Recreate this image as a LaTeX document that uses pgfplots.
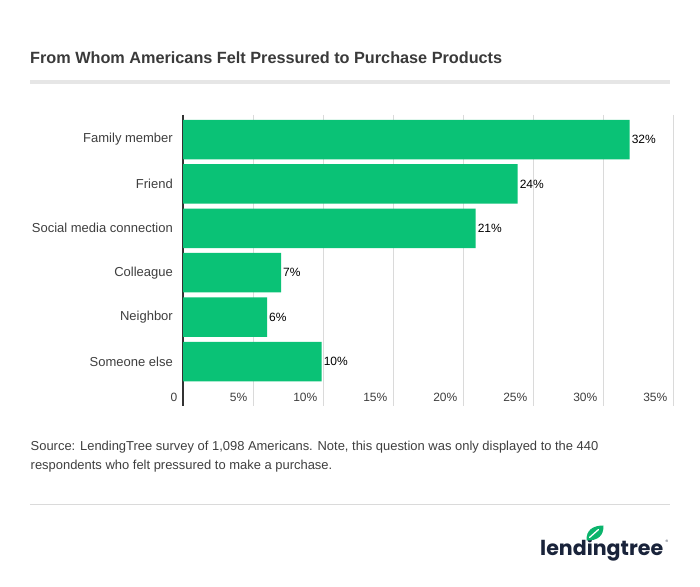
\documentclass[border=0pt]{standalone}
\usepackage{pgfplots}
\pgfplotsset{compat=1.18}
\usepackage{pgfplotstable}
\usepackage{fontspec}
\setmainfont{Liberation Sans}
\newfontfamily\logofont{Poppins}
\definecolor{bargreen}{HTML}{0AC276}
\definecolor{leafgreen}{HTML}{0BB46C}
\definecolor{txt}{HTML}{3F3F3F}
\definecolor{titletxt}{HTML}{3A3A3A}
\definecolor{gridc}{HTML}{DADADA}
\definecolor{rulec}{HTML}{E6E6E6}
\definecolor{navy}{HTML}{19233A}
\pgfplotstableread{
val pos lab
31.9 0 32
23.9 1 24
20.9 2 21
7.0 3 7
6.0 4 6
9.9 5 10
}\data
\begin{document}
\begin{tikzpicture}[x=1pt,y=1pt]
\path[fill=white,use as bounding box] (0pt,0pt) rectangle (700pt,586pt);
% title
\node[anchor=base west,inner sep=0pt,text=titletxt] at (30pt,522.7pt)
  {\resizebox{472pt}{!}{\fontsize{18}{20}\selectfont\bfseries From Whom Americans Felt Pressured to Purchase Products}};
\fill[rulec] (30pt,501.7pt) rectangle (670pt,506pt);
\begin{axis}[
  at={(183pt,180.5pt)}, anchor=south west,
  scale only axis, width=490pt, height=290.5pt,
  xmin=0, xmax=35, ymin=-0.552, ymax=5.991,
  y dir=reverse,
  xbar, bar width=39.5pt,
  axis lines=left,
  x axis line style={draw=none},
  y axis line style={-, draw=black!80, line width=2pt},
  major tick length=0pt,
  xtick={0,5,10,15,20,25,30,35},
  xticklabels={0,5\%,10\%,15\%,20\%,25\%,30\%,35\%},
  ytick={0,1,2,3,4,5},
  yticklabels={Family member,Friend,Social media connection,Colleague,Neighbor,Someone else},
  xmajorgrids, major grid style={draw=gridc, line width=0.9pt},
  xticklabel style={anchor=east, inner sep=0pt, xshift=-5.5pt, yshift=7.8pt, font=\fontsize{12}{14}\selectfont, text=txt},
  yticklabel style={anchor=east, inner sep=0pt, xshift=-10pt, font=\fontsize{13}{15}\selectfont, text=txt},
  clip=false,
  nodes near coords={\pgfplotspointmeta\%},
  point meta=explicit symbolic,
  nodes near coords style={anchor=west, inner sep=0pt, xshift=2pt, font=\fontsize{12}{14}\selectfont, text=black},
]
\addplot[fill=bargreen, draw=none] table[x=val, y=pos, meta=lab] {\data};
\end{axis}
% source
\node[anchor=base west,inner sep=0pt,text=txt,font=\fontsize{12.95}{16}\selectfont] at (30.5pt,135.3pt)
  {Source: LendingTree survey of 1,098 Americans. Note, this question was only displayed to the 440};
\node[anchor=base west,inner sep=0pt,text=txt,font=\fontsize{12.95}{16}\selectfont] at (30.5pt,117pt)
  {respondents who felt pressured to make a purchase.};
\draw[gridc, line width=1pt] (30pt,81.7pt) -- (670pt,81.7pt);
% logo
\node[anchor=base west,inner sep=0pt,text=navy] at (540pt,31pt)
  {\resizebox{123pt}{!}{\logofont\fontsize{24}{26}\selectfont\bfseries lendingtree}};
\node[anchor=center,inner sep=0pt,text=navy,font=\fontsize{3.5}{4}\selectfont] at (667pt,45pt) {®};
\fill[leafgreen] (586.5pt,45.5pt) .. controls (586pt,56pt) and (593pt,60.5pt) .. (603.5pt,60.5pt) .. controls (603.8pt,50.5pt) and (598pt,45.2pt) .. cycle;
\draw[white, line width=1.3pt, line cap=round] (589.5pt,48.5pt) -- (598.5pt,56.5pt);
\end{tikzpicture}
\end{document}
